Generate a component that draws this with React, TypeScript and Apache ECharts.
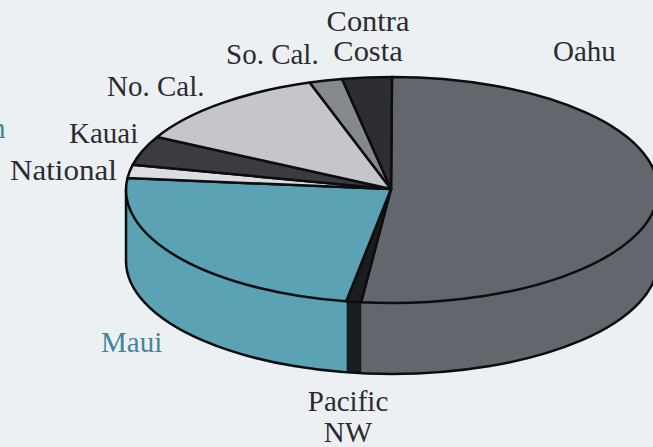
import React, { useEffect, useRef } from "react";
import * as echarts from "echarts";

const categories = ["Oahu", "Pacific NW", "Maui", "National", "Kauai", "No. Cal.", "So. Cal.", "Contra Costa"];
const shares = [51.8, 0.9, 23.9, 1.9, 4.2, 12.2, 2.0, 3.0];
const topColors = ["#63666c", "#1a1c1f", "#5aa2b4", "#dcdde0", "#3a3c40", "#c4c6ca", "#85888d", "#2c2e32"];

const W = 653;
const H = 447;
const CX = 392;
const CY = 190;
const RX = 266;
const RY = 113;
const DEPTH = 71;
const BG = "#edf0f3";
const INK = "#2a2c30";
const TEAL = "#3f8798";

const total = shares.reduce((a, b) => a + b, 0);
const angleAt = (i: number) => (shares.slice(0, i).reduce((a, b) => a + b, 0) / total) * Math.PI * 2;
const rim = (t: number, dy = 0): [number, number] => [CX + RX * Math.sin(t), CY - RY * Math.cos(t) + dy];

function topSlice(params: any, api: any) {
  const i = api.value(0);
  const a = angleAt(i);
  const b = angleAt(i + 1);
  const p = rim(a);
  const q = rim(b);
  const large = b - a > Math.PI ? 1 : 0;
  return {
    type: "path",
    shape: { pathData: `M${CX - 1} ${CY - 1}L${p[0]} ${p[1]}A${RX} ${RY} 0 ${large} 1 ${q[0]} ${q[1]}Z` },
    style: { fill: topColors[i], stroke: "#0c0d0f", lineWidth: 2.5, lineJoin: "round" },
  };
}

function wallSlice(params: any, api: any) {
  const i = api.value(0);
  const a = Math.max(angleAt(i), Math.PI / 2);
  const b = Math.min(angleAt(i + 1), (Math.PI * 3) / 2);
  if (b <= a) return { type: "group", children: [] };
  const p = rim(a);
  const q = rim(b);
  const q2 = rim(b, DEPTH);
  const p2 = rim(a, DEPTH);
  return {
    type: "path",
    shape: {
      pathData: `M${p[0]} ${p[1]}A${RX} ${RY} 0 0 1 ${q[0]} ${q[1]}L${q2[0]} ${q2[1]}A${RX} ${RY} 0 0 0 ${p2[0]} ${p2[1]}Z`,
    },
    style: { fill: topColors[i], stroke: topColors[i], lineWidth: 0.5 },
  };
}

function wallEdge(params: any, api: any) {
  const l = rim(Math.PI * 1.5);
  const l2 = rim(Math.PI * 1.5, DEPTH);
  const r = rim(Math.PI / 2);
  const r2 = rim(Math.PI / 2, DEPTH);
  return {
    type: "path",
    shape: { pathData: `M${l[0]} ${l[1]}L${l2[0]} ${l2[1]}A${RX} ${RY} 0 0 0 ${r2[0]} ${r2[1]}L${r[0]} ${r[1]}` },
    style: { fill: "none", stroke: "#0c0d0f", lineWidth: 2.5 },
  };
}

const labelSpec = [
  { text: "Oahu", x: 553, y: 51, fill: INK, lineHeight: 30 },
  { text: "Pacific\nNW", x: 348, y: 416, fill: INK, lineHeight: 31, align: "center" },
  { text: "Maui", x: 101, y: 342, fill: TEAL, lineHeight: 30 },
  { text: "National", x: 10, y: 170, fill: INK, lineHeight: 30, scaleX: 1.07 },
  { text: "Kauai", x: 69, y: 133, fill: INK, lineHeight: 30 },
  { text: "No. Cal.", x: 107, y: 86, fill: INK, lineHeight: 30 },
  { text: "So. Cal.", x: 226, y: 54, fill: INK, lineHeight: 30 },
  { text: "Contra\nCosta", x: 368, y: 36, fill: INK, lineHeight: 30, align: "center", scaleX: 1.05 },
  { text: "n", x: -9, y: 128, fill: TEAL, lineHeight: 30 },
];

export default function App() {
  const ref = useRef<HTMLDivElement>(null);
  useEffect(() => {
    document.body.style.margin = "0";
    document.body.style.background = BG;
    const chart = echarts.init(ref.current!, null, { renderer: "svg" });
    const rows = categories.map((name, i) => ({ name, value: [i, shares[i]] }));
    chart.setOption({
      animation: false,
      backgroundColor: BG,
      tooltip: { show: false },
      series: [
        { type: "custom", coordinateSystem: "none", silent: true, z: 1, renderItem: wallSlice, data: rows },
        { type: "custom", coordinateSystem: "none", silent: true, z: 2, renderItem: wallEdge, data: [rows[0]] },
        { type: "custom", coordinateSystem: "none", silent: true, z: 3, renderItem: topSlice, data: rows },
      ],
      graphic: labelSpec.map((l) => ({
        type: "text",
        x: l.x,
        y: l.y,
        scaleX: l.scaleX || 1,
        z: 10,
        style: {
          text: l.text,
          fill: l.fill,
          fontFamily: "Liberation Serif",
          fontSize: 29,
          lineHeight: l.lineHeight,
          align: l.align || "left",
          verticalAlign: "middle",
        },
      })),
    });
    return () => chart.dispose();
  }, []);
  return <div ref={ref} style={{ width: W, height: H }} />;
}
